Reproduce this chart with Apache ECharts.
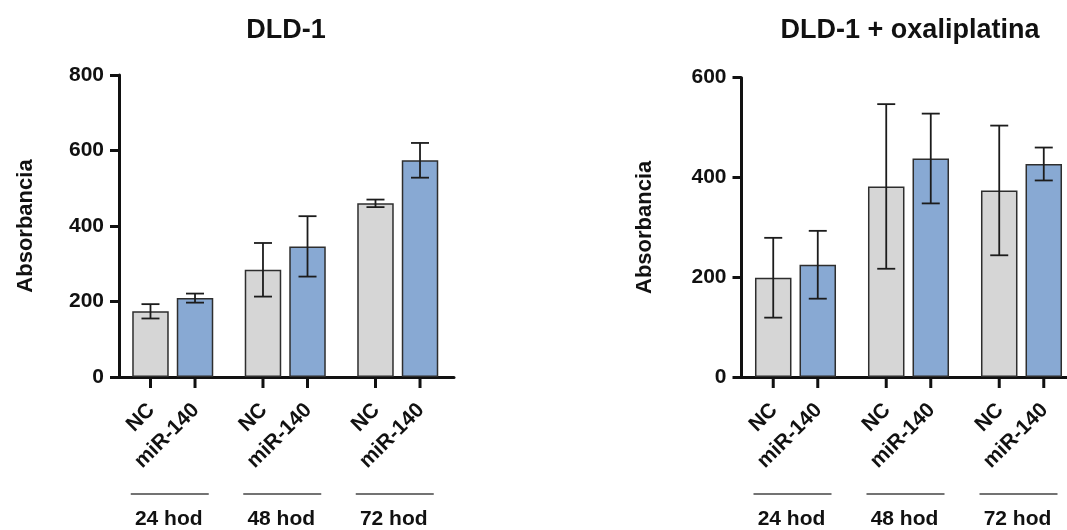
<!DOCTYPE html>
<html>
<head>
<meta charset="utf-8">
<script src="https://cdn.jsdelivr.net/npm/echarts@6/dist/echarts.min.js"></script>
<style>
  html, body { margin: 0; padding: 0; background: #fff; overflow: hidden; }
  /* the right panel's x axis runs past the visible edge */
  #chart { width: 1100px; height: 530px; }
</style>
</head>
<body>
<div id="chart"></div>
<script>
// Time points (x-axis groups) and treatment groups inside each time point
const timepoints = ['24 hod', '48 hod', '72 hod'];
const treatments = ['NC', 'miR-140'];

// DLD-1: mean absorbance and error (±)
const dldNC = [174, 284, 460];
const dldNCErr = [19, 71, 10];
const dldMiR = [209, 346, 574];
const dldMiRErr = [12, 80, 46];

// DLD-1 + oxaliplatina: mean absorbance and error (±)
const oxNC = [199, 382, 374];
const oxNCErr = [80, 165, 130];
const oxMiR = [225, 438, 427];
const oxMiRErr = [68, 90, 33];

// Y-axis tick values of each panel
const dldTicks = [0, 200, 400, 600, 800];
const oxTicks = [0, 200, 400, 600];

const FONT = "'Liberation Sans', Arial, Helvetica, sans-serif";
const INK = '#111';
const BAR_W = 36.5;
const BAR_GAP = 0.22;
const HALF_STEP = (BAR_W + BAR_W * BAR_GAP) / 2;
const COLORS = ['#d6d6d6', '#88a9d3'];

const chart = echarts.init(document.getElementById('chart'), null, { renderer: 'canvas' });

function yAxisFor(ticks, gridIndex, nameGap) {
  return {
    type: 'value',
    gridIndex: gridIndex,
    min: ticks[0],
    max: ticks[ticks.length - 1],
    interval: ticks[1] - ticks[0],
    offset: -2.5,
    name: 'Absorbancia',
    nameLocation: 'middle',
    nameGap: nameGap,
    nameTextStyle: { fontFamily: FONT, fontWeight: 'bold', fontSize: 22, color: INK },
    axisLine: { show: true, lineStyle: { color: INK, width: 3 } },
    axisTick: { show: true, length: 9, lineStyle: { color: INK, width: 3 } },
    axisLabel: { fontFamily: FONT, fontWeight: 'bold', fontSize: 21, color: INK, margin: 15 },
    splitLine: { show: false }
  };
}

function xAxisFor(gridIndex) {
  return {
    type: 'category',
    gridIndex: gridIndex,
    data: timepoints,
    axisLine: { show: true, lineStyle: { color: INK, width: 3 } },
    axisTick: { show: false },
    axisLabel: {
      fontFamily: FONT, fontWeight: 'bold', fontSize: 21, color: INK,
      margin: 132, padding: [0, 8, 0, 0]
    },
    splitLine: { show: false }
  };
}

function barSeries(name, values, idx, axisIndex) {
  return {
    type: 'bar',
    name: name,
    xAxisIndex: axisIndex,
    yAxisIndex: axisIndex,
    data: values,
    barWidth: BAR_W,
    barGap: (BAR_GAP * 100) + '%',
    itemStyle: { color: COLORS[idx], borderColor: '#2e2e2e', borderWidth: 1.5 },
    z: 2
  };
}

// Error bars: vertical whisker with caps, centred on each bar
function errorSeries(ncMean, ncErr, miMean, miErr, axisIndex) {
  const data = [];
  ncMean.forEach((v, i) => data.push([i, v, ncErr[i], 0]));
  miMean.forEach((v, i) => data.push([i, v, miErr[i], 1]));
  return {
    type: 'custom',
    xAxisIndex: axisIndex,
    yAxisIndex: axisIndex,
    data: data,
    encode: { x: 0, y: 1 },
    clip: false,
    z: 5,
    silent: true,
    renderItem: function (params, api) {
      const cat = api.value(0), mean = api.value(1), err = api.value(2), g = api.value(3);
      const base = api.coord([cat, mean]);
      const x = base[0] + (g === 0 ? -HALF_STEP : HALF_STEP);
      const yTop = api.coord([cat, mean + err])[1];
      const yBot = api.coord([cat, mean - err])[1];
      const cap = 9;
      const style = { stroke: '#1c1c1c', lineWidth: 1.8 };
      return {
        type: 'group',
        children: [
          { type: 'line', shape: { x1: x, y1: yTop, x2: x, y2: yBot }, style: style },
          { type: 'line', shape: { x1: x - cap, y1: yTop, x2: x + cap, y2: yTop }, style: style },
          { type: 'line', shape: { x1: x - cap, y1: yBot, x2: x + cap, y2: yBot }, style: style }
        ]
      };
    }
  };
}

// Per-bar ticks, rotated treatment labels and the rule above each time point
function annotationSeries(axisIndex) {
  return {
    type: 'custom',
    xAxisIndex: axisIndex,
    yAxisIndex: axisIndex,
    data: timepoints.map((t, i) => [i, 0]),
    encode: { x: 0, y: 1 },
    clip: false,
    silent: true,
    z: 6,
    renderItem: function (params, api) {
      const cat = api.value(0);
      const p = api.coord([cat, 0]);
      const cx = p[0], ay = p[1];
      const children = [];
      treatments.forEach((label, g) => {
        const x = cx + (g === 0 ? -HALF_STEP : HALF_STEP);
        children.push({
          type: 'line',
          shape: { x1: x, y1: ay, x2: x, y2: ay + 11 },
          style: { stroke: INK, lineWidth: 3 }
        });
        children.push({
          type: 'text',
          x: x + 1,
          y: ay + 30,
          rotation: Math.PI / 4,
          style: {
            text: label,
            fill: INK,
            fontFamily: FONT,
            fontWeight: 'bold',
            fontSize: 21,
            align: 'right',
            verticalAlign: 'middle'
          }
        });
      });
      children.push({
        type: 'line',
        shape: { x1: cx - 42, y1: ay + 117, x2: cx + 36, y2: ay + 117 },
        style: { stroke: '#444', lineWidth: 1.5 }
      });
      return { type: 'group', children: children };
    }
  };
}

const titleStyle = { fontFamily: FONT, fontWeight: 'bold', fontSize: 27, color: INK };

chart.setOption({
  backgroundColor: '#fff',
  animation: false,
  title: [
    { text: 'DLD-1', left: 286, top: 17, textAlign: 'center', padding: 0, textStyle: titleStyle },
    { text: 'DLD-1 + oxaliplatina', left: 910, top: 17, textAlign: 'center', padding: 0, textStyle: titleStyle }
  ],
  grid: [
    { left: 116.5, top: 75, width: 337.5, height: 302.3 },
    { left: 739, top: 77.7, width: 339, height: 301 }
  ],
  xAxis: [xAxisFor(0), xAxisFor(1)],
  yAxis: [yAxisFor(dldTicks, 0, 82), yAxisFor(oxTicks, 1, 86)],
  series: [
    barSeries(treatments[0], dldNC, 0, 0),
    barSeries(treatments[1], dldMiR, 1, 0),
    errorSeries(dldNC, dldNCErr, dldMiR, dldMiRErr, 0),
    annotationSeries(0),
    barSeries(treatments[0], oxNC, 0, 1),
    barSeries(treatments[1], oxMiR, 1, 1),
    errorSeries(oxNC, oxNCErr, oxMiR, oxMiRErr, 1),
    annotationSeries(1)
  ]
});
</script>
</body>
</html>
